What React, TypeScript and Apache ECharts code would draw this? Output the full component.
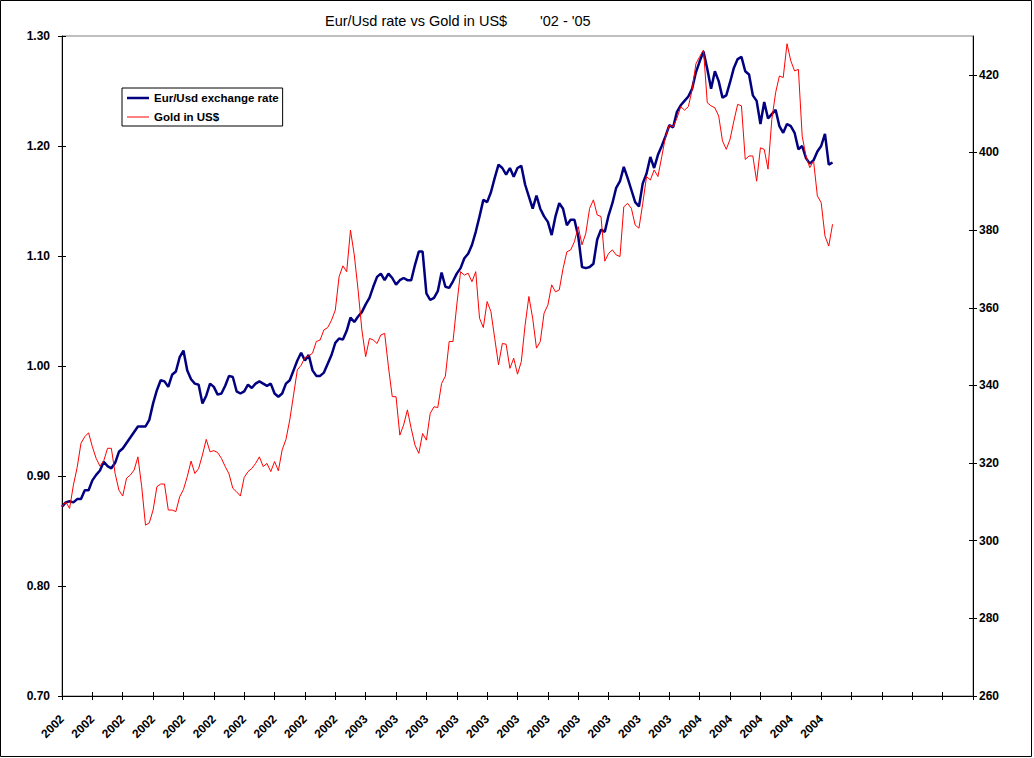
import React, { useEffect, useRef } from "react";
import * as echarts from "echarts";

// Labels shown at each tick of the category axis (one tick every 8 observations)
const tickLabels = [
  "2002", "2002", "2002", "2002", "2002", "2002", "2002", "2002", "2002", "2002",
  "2003", "2003", "2003", "2003", "2003", "2003", "2003", "2003", "2003", "2003", "2003",
  "2004", "2004", "2004", "2004", "2004",
  "", "", "", "", "",
];
const POINTS_PER_TICK = 8;

// Eur/Usd exchange rate (left axis)
const eurUsd = [
  0.872, 0.876, 0.877, 0.876, 0.879, 0.879, 0.887, 0.887, 0.896, 0.901,
  0.905, 0.913, 0.909, 0.907, 0.912, 0.922, 0.925, 0.930, 0.935, 0.940,
  0.945, 0.945, 0.945, 0.951, 0.966, 0.978, 0.987, 0.986, 0.981, 0.992,
  0.995, 1.008, 1.014, 0.996, 0.988,
  0.984, 0.983, 0.966, 0.973, 0.984, 0.981, 0.974, 0.975, 0.982, 0.991,
  0.990, 0.977, 0.975, 0.977, 0.983, 0.980, 0.984, 0.986, 0.984, 0.982,
  0.984, 0.975, 0.972, 0.975, 0.984, 0.987, 0.996, 1.005, 1.012, 1.005,
  1.010, 0.996, 0.991,
  0.991, 0.994, 1.002, 1.010, 1.021, 1.025, 1.024, 1.032, 1.044, 1.040,
  1.045, 1.049, 1.056, 1.062, 1.072, 1.081, 1.084, 1.078, 1.084, 1.080,
  1.074, 1.078, 1.080, 1.078, 1.078, 1.092, 1.104, 1.104, 1.066, 1.060,
  1.062, 1.068, 1.085, 1.072,
  1.071, 1.077, 1.084, 1.089, 1.098, 1.102, 1.110, 1.122, 1.136, 1.151,
  1.149, 1.158, 1.171, 1.183, 1.180, 1.174, 1.180, 1.172, 1.180, 1.182,
  1.165, 1.154, 1.143, 1.155, 1.143, 1.136, 1.131, 1.119, 1.136, 1.148,
  1.143, 1.128, 1.133, 1.133,
  1.118, 1.090, 1.089, 1.090, 1.093, 1.115, 1.124, 1.122, 1.137, 1.148,
  1.162, 1.168, 1.181, 1.171, 1.160, 1.149, 1.145, 1.166, 1.175, 1.190,
  1.180, 1.192, 1.200, 1.209, 1.219, 1.217, 1.231, 1.237, 1.241, 1.245,
  1.252, 1.267, 1.277, 1.286,
  1.270, 1.252, 1.268, 1.259, 1.244, 1.246, 1.258, 1.271, 1.279, 1.281,
  1.268, 1.265, 1.246, 1.241, 1.220, 1.240, 1.225, 1.229, 1.233, 1.218,
  1.212, 1.220, 1.218, 1.212, 1.197, 1.200, 1.189, 1.184, 1.187, 1.195,
  1.200, 1.211, 1.183, 1.185,
];

// Gold price in US$ (right axis)
const goldUsd = [
  308.8, 310.0, 308.3, 314.3, 318.9, 325.1, 326.8, 327.8, 324.2, 321.2,
  319.2, 320.6, 323.8, 323.8, 317.3, 313.0, 311.5, 316.1, 316.9, 318.2,
  321.6, 313.9, 304.0, 304.6, 307.9, 313.9, 314.6, 314.6, 307.9, 307.9,
  307.5, 311.3, 313.2, 316.5, 320.5,
  317.3, 318.6, 322.1, 326.1, 322.9, 323.2, 322.7, 321.2, 319.1, 317.2,
  313.5, 312.6, 311.5, 316.3, 317.8, 318.6, 319.9, 321.6, 319.1, 319.9,
  317.8, 320.4, 318.0, 323.4, 326.1, 331.1, 337.5, 344.0, 345.2, 347.2,
  347.6, 348.3, 351.3,
  351.7, 354.3, 354.9, 356.8, 359.4, 368.0, 370.8, 369.3, 380.0, 373.6,
  364.6, 354.3, 347.4, 352.1, 351.7, 350.8, 353.0, 353.4, 344.8, 337.1,
  337.1, 327.2, 329.8, 333.7, 328.9, 324.6, 322.5, 327.6, 325.9, 332.8,
  334.5, 334.3, 340.5, 342.4,
  351.3, 351.3, 360.7, 369.3, 368.4, 368.9, 366.7, 369.3, 357.3, 354.9,
  361.6, 359.0, 352.1, 345.3, 350.8, 350.6, 344.4, 347.0, 342.9, 346.1,
  355.5, 362.9, 357.3, 349.6, 351.3, 358.6, 360.7, 365.9, 364.1, 364.6,
  370.1, 374.4, 374.9, 377.0,
  380.9, 376.2, 379.2, 385.6, 387.8, 383.9, 383.5, 372.0, 374.0, 374.9,
  373.6, 373.2, 386.0, 386.9, 385.6, 381.3, 380.5, 386.9, 393.8, 392.9,
  395.5, 393.8, 398.9, 404.1, 407.1, 406.6, 408.8, 411.8, 410.9, 411.8,
  416.1, 422.8, 424.7, 426.4,
  412.8, 412.0, 411.5, 409.4, 403.0, 400.8, 403.4, 408.1, 412.4, 412.0,
  398.2, 399.1, 399.1, 392.6, 401.2, 400.8, 395.7, 408.5, 415.4, 419.7,
  419.3, 428.0, 423.6, 421.0, 421.4, 404.2, 399.1, 396.1, 397.8, 388.8,
  387.1, 378.5, 375.9, 381.5,
];

const rightTickValues = [260, 280, 300, 320, 340, 360, 380, 400, 420];

const categories = Array.from(
  { length: (tickLabels.length - 1) * POINTS_PER_TICK + 1 },
  (_, i) => String(i)
);

const FONT = "'Liberation Sans', Arial, Helvetica, sans-serif";

export default function App() {
  const ref = useRef<HTMLDivElement>(null);

  useEffect(() => {
    if (!ref.current) return;
    const chart = echarts.init(ref.current, null, { renderer: "svg" });

    const labelFont = {
      color: "#000",
      fontFamily: FONT,
      fontWeight: "bold" as const,
      fontSize: 12,
    };

    chart.setOption({
      animation: false,
      backgroundColor: "#ffffff",
      textStyle: { fontFamily: FONT },
      title: [
        {
          text: "Eur/Usd rate vs Gold in US$",
          left: 325,
          top: 13,
          padding: 0,
          textStyle: { fontSize: 14.5, fontWeight: "normal", color: "#000", fontFamily: FONT },
        },
        {
          text: "'02 - '05",
          left: 540,
          top: 13,
          padding: 0,
          textStyle: { fontSize: 14.5, fontWeight: "normal", color: "#000", fontFamily: FONT },
        },
      ],
      graphic: [
        {
          type: "rect",
          silent: true,
          z: 100,
          shape: { x: 0.5, y: 0.5, width: 1031, height: 756 },
          style: { fill: "none", stroke: "#000", lineWidth: 1 },
        },
      ],
      legend: {
        left: 122,
        top: 88,
        orient: "vertical",
        padding: [4, 4, 3, 5],
        itemWidth: 22,
        itemHeight: 14,
        itemGap: 7,
        borderColor: "#000",
        borderWidth: 1,
        backgroundColor: "#fff",
        itemStyle: { borderWidth: 0 },
        textStyle: { ...labelFont, fontSize: 11.5 },
        data: [
          { name: "Eur/Usd exchange rate", icon: "path://M0,0h22v2.5h-22z", itemStyle: { color: "#000080", borderWidth: 0 } },
          { name: "Gold in US$", icon: "path://M0,0h22v1h-22z", itemStyle: { color: "#ff0000", borderWidth: 0 } },
        ],
      },
      grid: {
        left: 62,
        right: 61,
        top: 36,
        bottom: 62,
        show: true,
        borderColor: "#808080",
        borderWidth: 1,
        backgroundColor: "transparent",
      },
      xAxis: [
        {
          type: "category",
          data: categories,
          boundaryGap: false,
          position: "bottom",
          axisLine: { show: true, lineStyle: { color: "#000", width: 1 } },
          axisTick: { show: true, interval: POINTS_PER_TICK - 1, length: 4, lineStyle: { color: "#000" } },
          axisLabel: {
            ...labelFont,
            interval: POINTS_PER_TICK - 1,
            rotate: 45,
            margin: 21,
            formatter: (_v: string, idx: number) => tickLabels[idx / POINTS_PER_TICK] ?? "",
          },
          splitLine: { show: false },
        },
        {
          type: "category",
          data: categories,
          boundaryGap: false,
          position: "bottom",
          axisLine: { show: false },
          axisTick: { show: true, inside: true, interval: POINTS_PER_TICK - 1, length: 4, lineStyle: { color: "#000" } },
          axisLabel: { show: false },
          splitLine: { show: false },
        },
      ],
      yAxis: [
        {
          type: "value",
          position: "left",
          min: 0.7,
          max: 1.3,
          interval: 0.1,
          axisLine: { show: true, lineStyle: { color: "#000", width: 1 } },
          axisTick: { show: true, length: 4, lineStyle: { color: "#000" } },
          axisLabel: { ...labelFont, margin: 12, formatter: (v: number) => v.toFixed(2) },
          splitLine: { show: false },
        },
        {
          type: "value",
          position: "right",
          min: 260,
          max: 430,
          interval: 20,
          axisLine: { show: true, lineStyle: { color: "#000", width: 1 } },
          axisTick: { show: true, length: 4, lineStyle: { color: "#000" }, customValues: rightTickValues },
          axisLabel: { ...labelFont, margin: 6, customValues: rightTickValues },
          splitLine: { show: false },
        },
        {
          type: "value",
          position: "left",
          min: 0.7,
          max: 1.3,
          interval: 0.1,
          axisLine: { show: false },
          axisTick: { show: true, inside: true, length: 4, lineStyle: { color: "#000" } },
          axisLabel: { show: false },
          splitLine: { show: false },
        },
        {
          type: "value",
          position: "right",
          min: 260,
          max: 430,
          interval: 20,
          axisLine: { show: false },
          axisTick: { show: true, inside: true, length: 4, lineStyle: { color: "#000" }, customValues: rightTickValues },
          axisLabel: { show: false },
          splitLine: { show: false },
        },
      ],
      series: [
        {
          name: "Eur/Usd exchange rate",
          type: "line",
          xAxisIndex: 0,
          yAxisIndex: 0,
          data: eurUsd,
          symbol: "none",
          showSymbol: false,
          lineStyle: { color: "#000080", width: 2.5 },
          itemStyle: { color: "#000080" },
          z: 2,
        },
        {
          name: "Gold in US$",
          type: "line",
          xAxisIndex: 0,
          yAxisIndex: 1,
          data: goldUsd,
          symbol: "none",
          showSymbol: false,
          lineStyle: { color: "#ff0000", width: 1 },
          itemStyle: { color: "#ff0000" },
          z: 3,
        },
      ],
    });

    return () => chart.dispose();
  }, []);

  return (
    <div
      ref={ref}
      style={{ position: "absolute", left: 0, top: 0, width: 1034, height: 758, background: "#fff" }}
    />
  );
}
